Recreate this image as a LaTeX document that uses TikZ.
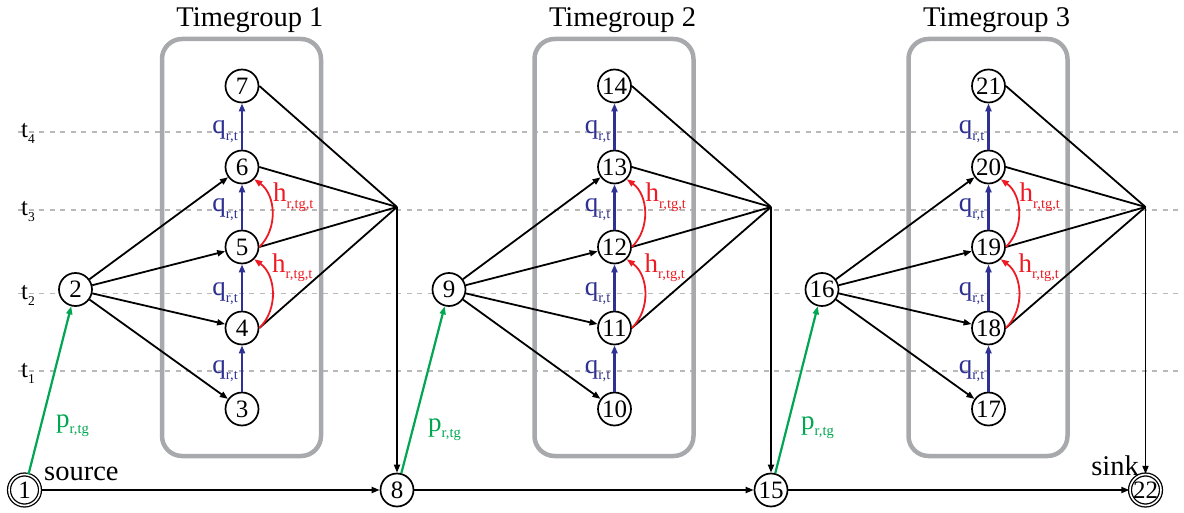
\documentclass[tikz,border=0pt]{standalone}
\usepackage{fontspec}
\setmainfont{Liberation Serif}
\usetikzlibrary{arrows.meta}
\definecolor{qblue}{RGB}{46,49,146}
\definecolor{hred}{RGB}{237,28,36}
\definecolor{pgreen}{RGB}{0,166,81}
\definecolor{boxgray}{RGB}{167,169,172}
\definecolor{dashgray}{RGB}{185,185,185}
\newcommand\lblsub[2]{#1{\fontsize{14.5}{15}\selectfont\raisebox{-6.5pt}{#2}}}
\tikzset{
  nd/.style={circle,draw,fill=white,line width=1.7pt,minimum size=33pt,inner sep=0pt,font=\fontsize{25}{25}\selectfont},
  ndd/.style={nd,double,double distance=1.6pt,line width=1.3pt,minimum size=31pt},
  edge/.style={line width=1.8pt},
  tip/.style={-{Triangle[length=8pt,width=6pt]}},
  arr/.style={edge,tip},
  qarr/.style={qblue,line width=2.2pt,tip},
  harr/.style={hred,line width=1.8pt,tip},
  parr/.style={pgreen,line width=2.2pt,tip},
  tline/.style={dashgray,line width=1.8pt,dash pattern=on 5pt off 5.5pt},
  tgbox/.style={draw=boxgray,line width=4.5pt,rounded corners=20pt,minimum width=159pt,minimum height=417pt,inner sep=0pt},
  title/.style={font=\fontsize{28.5}{30}\selectfont,anchor=base,inner sep=0pt},
  biglab/.style={font=\fontsize{28.5}{30}\selectfont,inner sep=0pt},
  tlab/.style={font=\fontsize{25}{25}\selectfont,inner sep=0pt,anchor=base west},
  qlab/.style={qblue,font=\fontsize{27}{27}\selectfont,inner sep=0pt,anchor=base east},
  hlab/.style={hred,font=\fontsize{27}{27}\selectfont,inner sep=0pt,anchor=base west},
  plab/.style={pgreen,font=\fontsize{27}{27}\selectfont,inner sep=0pt,anchor=base west}
}
\begin{document}
\begin{tikzpicture}[x=1pt,y=-1pt]
\useasboundingbox (0,0) rectangle (1184,513);
% time lines
\foreach \y/\k in {132/4,210/3,293.5/2,371/1} {
  \draw[tline] (18,\y) -- (1184,\y);
  \node[tlab] (t\k) at (21,\y+6) {t{\fontsize{13.5}{13.5}\selectfont\raisebox{-6pt}{\k}}};
}
% boxes and titles
\foreach \g/\xc in {1/242,2/614.5,3/988.5} {
  \node[tgbox] (box\g) at (\xc-0.5,247.5) {};
  \node[title] (title\g) at (\xc+8,27) {Timegroup \g};
}
% bottom nodes
\node[ndd] (n1) at (24.5,490) {1};
\node[nd] (n8) at (397,490) {8};
\node[nd] (n15) at (771,490) {15};
\node[ndd] (n22) at (1145.5,490) {22};
\node[biglab,anchor=base west] (src) at (44,480) {source};
\node[biglab,anchor=base east] (snk) at (1139,475) {sink};
% groups
\foreach \g/\xe/\xc/\xb/\px/\py in {0/75.5/242/397/56/427,1/449/614.5/771/428/431,2/822/988.5/1145.5/801/429} {
  \pgfmathtruncatemacro\kE{2+7*\g}
  \pgfmathtruncatemacro\kA{3+7*\g}
  \pgfmathtruncatemacro\kB{4+7*\g}
  \pgfmathtruncatemacro\kC{5+7*\g}
  \pgfmathtruncatemacro\kD{6+7*\g}
  \pgfmathtruncatemacro\kF{7+7*\g}
  \pgfmathtruncatemacro\kG{8+7*\g}
  \pgfmathtruncatemacro\kP{1+7*\g}
  \pgfmathtruncatemacro\tg{1+\g}
  \node[nd] (n\kE) at (\xe,289.5) {\kE};
  \node[nd] (n\kA) at (\xc,409) {\kA};
  \node[nd] (n\kB) at (\xc,328) {\kB};
  \node[nd] (n\kC) at (\xc,247) {\kC};
  \node[nd] (n\kD) at (\xc,167) {\kD};
  \node[nd] (n\kF) at (\xc,86) {\kF};
  \coordinate (j\tg) at (\xb,207);
  % entry edges
  \draw[arr] (n\kE) -- (n\kA);
  \draw[arr] (n\kE) -- (n\kB);
  \draw[arr] (n\kE) -- (n\kC);
  \draw[arr] (n\kE) -- (n\kD);
  % exit edges
  \draw[edge] (n\kB.east) -- (j\tg);
  \draw[edge] (n\kC.east) -- (j\tg);
  \draw[edge] (n\kD.east) -- (j\tg);
  \draw[edge] (n\kF.east) -- (j\tg);
  \draw[arr] (j\tg) -- (n\kG.north);
  % bottom and green
  \draw[arr] (n\kP) -- (n\kG);
  \draw[parr] (n\kP) -- (n\kE);
  \node[plab] (p\tg) at (\px,\py) {\lblsub{p}{r,tg}};
  % blue
  \draw[qarr] (n\kA) -- (n\kB);
  \draw[qarr] (n\kB) -- (n\kC);
  \draw[qarr] (n\kC) -- (n\kD);
  \draw[qarr] (n\kD) -- (n\kF);
  \node[qlab] (qa\tg) at (\xc-4,373) {\lblsub{q}{r,t}};
  \node[qlab] (qb\tg) at (\xc-4,295.5) {\lblsub{q}{r,t}};
  \node[qlab] (qc\tg) at (\xc-4,212) {\lblsub{q}{r,t}};
  \node[qlab] (qd\tg) at (\xc-4,134) {\lblsub{q}{r,t}};
  % red
  \draw[harr] (n\kB.east) to[bend right=50] (n\kC.south east);
  \draw[harr] (n\kC.east) to[bend right=50] (n\kD.south east);
  \node[hlab] (ha\tg) at (\xc+30,272.5) {\lblsub{h}{r,tg,t}};
  \node[hlab] (hb\tg) at (\xc+31,202) {\lblsub{h}{r,tg,t}};
}
\end{tikzpicture}
\end{document}
